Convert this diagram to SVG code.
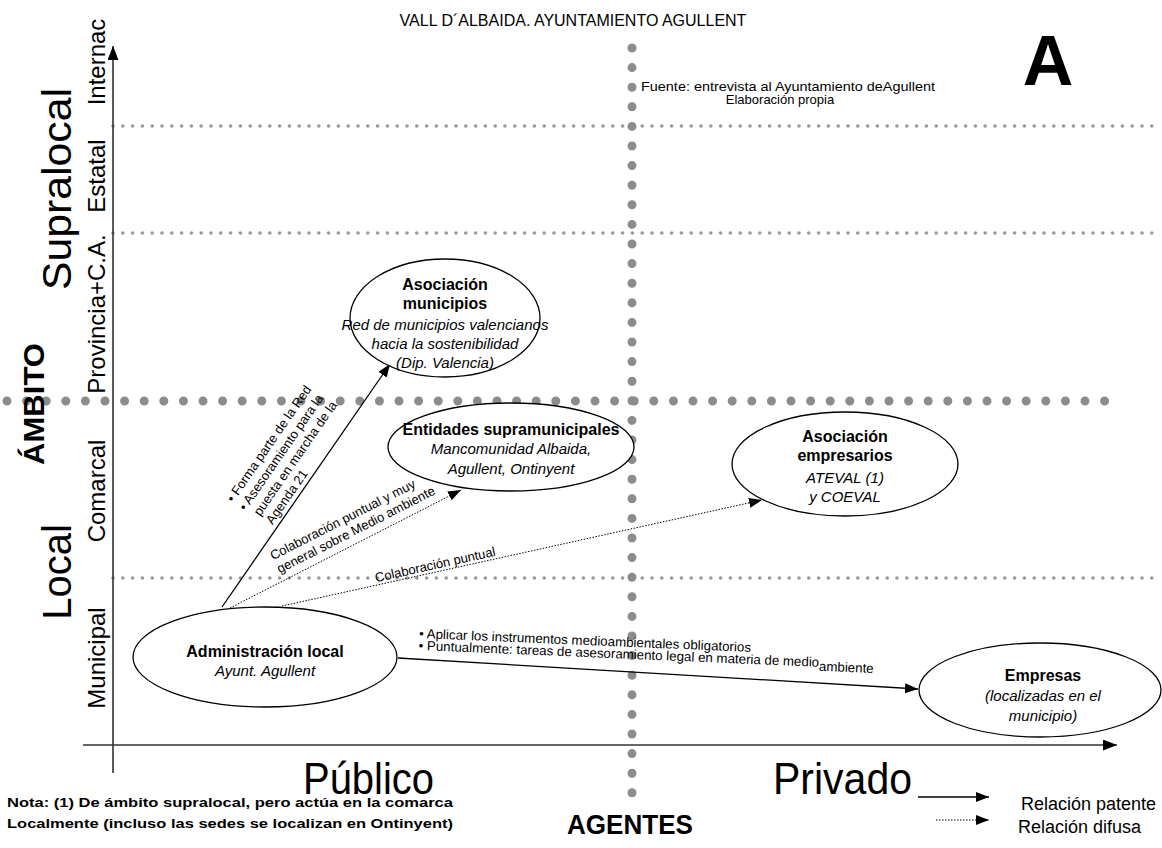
<svg xmlns="http://www.w3.org/2000/svg" width="1162" height="848" viewBox="0 0 1162 848">
<style>
text{font-family:"Liberation Sans",Arial,sans-serif;fill:#000}
.b{font-weight:bold;font-size:16px}
.i{font-style:italic;font-size:15px}
.e{font-size:13px}
.e2{font-size:13.3px}
.lvl{font-size:24px}
.big{font-size:40px}
.big2{font-size:44px}
.node{fill:#fff;stroke:#000;stroke-width:1.3}
.bigdot{stroke:#8c8c8c;stroke-width:9;stroke-linecap:round;stroke-dasharray:0 19.6;fill:none}
.smdot{stroke:#999;stroke-width:3.6;stroke-linecap:round;stroke-dasharray:0 9.8;fill:none}
.axis{stroke:#333;stroke-width:1.6;fill:none}
.solid{stroke:#000;stroke-width:1.3;fill:none}
.dotted{stroke:#000;stroke-width:1;stroke-dasharray:1.5 1.5;fill:none}
</style>
<defs>
<marker id="ah" markerUnits="userSpaceOnUse" markerWidth="14" markerHeight="12" refX="13" refY="5" orient="auto"><path d="M0,0 L13,5 L0,10 z" fill="#000"/></marker>
<marker id="ax" markerUnits="userSpaceOnUse" markerWidth="15" markerHeight="12" refX="14" refY="5.5" orient="auto"><path d="M0,0 L14,5.5 L0,11 z" fill="#000"/></marker>
</defs>
<rect width="1162" height="848" fill="#fff"/>

<g id="grid">
<line class="smdot" x1="113" y1="126" x2="1151.8" y2="126"/>
<line class="smdot" x1="113" y1="233" x2="1151.8" y2="233"/>
<line class="smdot" x1="113" y1="578" x2="1151.8" y2="578"/>
<line class="bigdot" x1="7" y1="401" x2="1105" y2="401"/>
<line class="bigdot" x1="632" y1="48" x2="632" y2="793"/>
</g>

<g id="axes">
<line class="axis" x1="113" y1="773" x2="113" y2="46" marker-end="url(#ax)"/>
<line class="axis" x1="83" y1="745" x2="1117" y2="745" marker-end="url(#ax)"/>
</g>

<g id="titles">
<text x="573" y="26" font-size="16" text-anchor="middle">VALL D´ALBAIDA. AYUNTAMIENTO AGULLENT</text>
<text x="1048" y="85" font-size="70" font-weight="bold" text-anchor="middle">A</text>
<text x="641" y="91" font-size="13" textLength="294" lengthAdjust="spacingAndGlyphs">Fuente: entrevista  al Ayuntamiento deAgullent</text>
<text x="780" y="104" font-size="13" text-anchor="middle">Elaboración propia</text>
</g>

<g id="axis-labels">
<text class="lvl" transform="translate(105,62) rotate(-90)" text-anchor="middle">Internac</text>
<text class="lvl" transform="translate(105,176) rotate(-90)" text-anchor="middle">Estatal</text>
<text class="lvl" transform="translate(105,314) rotate(-90)" text-anchor="middle">Provincia+C.A.</text>
<text class="lvl" transform="translate(105,491) rotate(-90)" text-anchor="middle">Comarcal</text>
<text class="lvl" transform="translate(105,658) rotate(-90)" text-anchor="middle">Municipal</text>
<text class="big" transform="translate(71,189) rotate(-90)" text-anchor="middle" textLength="202" lengthAdjust="spacingAndGlyphs">Supralocal</text>
<text class="big" transform="translate(71,572) rotate(-90)" text-anchor="middle">Local</text>
<text transform="translate(44,404) rotate(-90)" text-anchor="middle" font-size="29" font-weight="bold" textLength="122" lengthAdjust="spacingAndGlyphs">ÁMBITO</text>
<text class="big2" x="303" y="794" textLength="131" lengthAdjust="spacingAndGlyphs">Público</text>
<text class="big2" x="773" y="794" textLength="139" lengthAdjust="spacingAndGlyphs">Privado</text>
<text x="630" y="834" font-size="28" font-weight="bold" text-anchor="middle" textLength="126" lengthAdjust="spacingAndGlyphs">AGENTES</text>
</g>

<g id="note">
<text x="7" y="807" font-size="12.5" font-weight="bold" textLength="446" lengthAdjust="spacingAndGlyphs">Nota: (1) De ámbito supralocal, pero actúa en la comarca</text>
<text x="7" y="828" font-size="12.5" font-weight="bold" textLength="446" lengthAdjust="spacingAndGlyphs">Localmente (incluso las sedes se localizan en  Ontinyent)</text>
</g>

<g id="legend">
<line class="solid" x1="918" y1="797" x2="989" y2="797" marker-end="url(#ah)"/>
<line class="dotted" x1="936" y1="820" x2="989" y2="820" marker-end="url(#ah)"/>
<text x="1021" y="810" font-size="18">Relación patente</text>
<text x="1018" y="833" font-size="18">Relación difusa</text>
</g>

<g id="connectors">
<line class="solid" x1="222" y1="607" x2="390" y2="364" marker-end="url(#ah)"/>
<line class="dotted" x1="230" y1="608" x2="461" y2="490" marker-end="url(#ah)"/>
<line class="dotted" x1="282" y1="606" x2="762" y2="500" marker-end="url(#ah)"/>
<line class="solid" x1="398" y1="658" x2="918" y2="689" marker-end="url(#ah)"/>
<g transform="translate(222,607) rotate(-55.3)">
<text class="e" x="92" y="-50">• Forma parte de la Red</text>
<text class="e" x="92" y="-35">• Asesoramiento para la</text>
<text class="e" x="96" y="-20">puesta en marcha de la</text>
<text class="e" x="96" y="-5">Agenda 21</text>
</g>
<g transform="translate(230,608) rotate(-27.06)">
<text class="e" x="60" y="-23">Colaboración puntual y muy</text>
<text class="e" x="60" y="-8">general sobre Medio ambiente</text>
</g>
<g transform="translate(282,606) rotate(-12.45)">
<text class="e" x="97" y="-3">Colaboración puntual</text>
</g>
<g transform="translate(419,638) rotate(2.4)">
<text class="e2" x="0" y="0">• Aplicar los instrumentos medioambientales obligatorios</text>
<text class="e2" x="0" y="12">• Puntualmente: tareas de asesoramiento legal en materia de medio<tspan dy="4">ambiente</tspan></text>
</g>
</g>

<g id="n-asoc-municipios">
<ellipse class="node" cx="445" cy="318" rx="95" ry="59"/>
<text class="b" x="445" y="290" text-anchor="middle">Asociación</text>
<text class="b" x="445" y="309" text-anchor="middle">municipios</text>
<text class="i" x="445" y="330" text-anchor="middle">Red de municipios valencianos</text>
<text class="i" x="445" y="349" text-anchor="middle">hacia la sostenibilidad</text>
<text class="i" x="445" y="368" text-anchor="middle">(Dip. Valencia)</text>
</g>

<g id="n-entidades">
<ellipse class="node" cx="511" cy="447" rx="123" ry="44"/>
<text class="b" x="511" y="435" text-anchor="middle">Entidades supramunicipales</text>
<text class="i" x="511" y="454" text-anchor="middle">Mancomunidad Albaida,</text>
<text class="i" x="511" y="474" text-anchor="middle">Agullent, Ontinyent</text>
</g>

<g id="n-asoc-empresarios">
<ellipse class="node" cx="845" cy="464" rx="113" ry="52"/>
<text class="b" x="845" y="442" text-anchor="middle">Asociación</text>
<text class="b" x="845" y="461" text-anchor="middle">empresarios</text>
<text class="i" x="845" y="483" text-anchor="middle">ATEVAL (1)</text>
<text class="i" x="845" y="502" text-anchor="middle">y COEVAL</text>
</g>

<g id="n-admin-local">
<ellipse class="node" cx="265" cy="657" rx="132" ry="50"/>
<text class="b" x="265" y="657" text-anchor="middle">Administración local</text>
<text class="i" x="265" y="676" text-anchor="middle">Ayunt. Agullent</text>
</g>

<g id="n-empresas">
<ellipse class="node" cx="1040" cy="690" rx="121" ry="47"/>
<text class="b" x="1043" y="681" text-anchor="middle">Empresas</text>
<text class="i" x="1043" y="701" text-anchor="middle">(localizadas en el</text>
<text class="i" x="1043" y="721" text-anchor="middle">municipio)</text>
</g>
</svg>
